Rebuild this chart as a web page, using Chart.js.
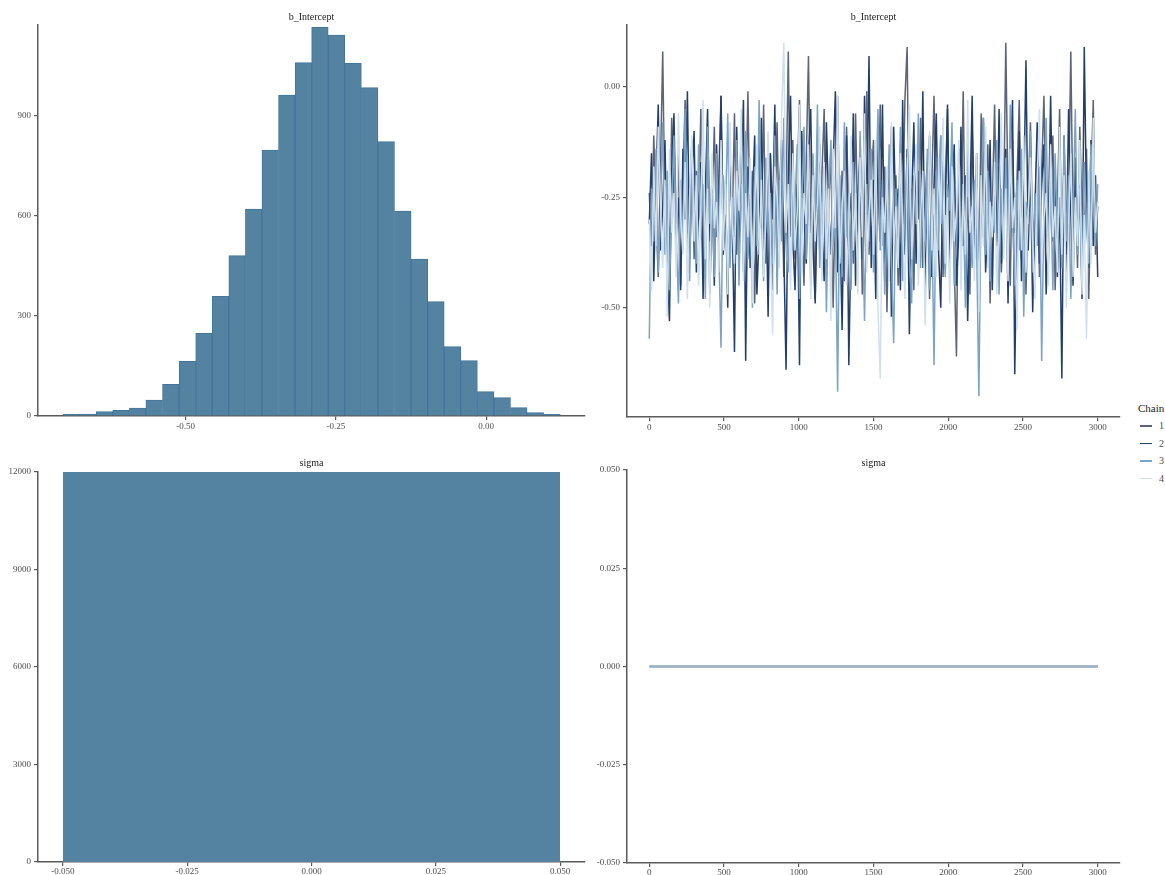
<!DOCTYPE html>
<html><head><meta charset="utf-8">
<script src="https://cdn.jsdelivr.net/npm/chart.js@4.4.1/dist/chart.umd.min.js"></script>
<style>
html,body{margin:0;padding:0;background:#fff;}
body{width:1165px;height:875px;position:relative;overflow:hidden;font-family:'Liberation Serif','DejaVu Serif',serif;}
canvas{position:absolute;}
#legend{position:absolute;left:1138px;top:400px;color:#1a1a1a;}
#legend .ttl{font-size:11px;height:17px;line-height:16px;}
#legend .row{height:17.5px;display:flex;align-items:center;font-size:10px;color:#4d4d4d;}
#legend .sw{display:inline-block;width:12px;height:1.5px;margin:0 7px 0 2px;}
</style></head><body>
<canvas id="histB" width="600" height="440" style="left:0;top:0"></canvas>
<canvas id="traceB" width="550" height="440" style="left:580px;top:0"></canvas>
<canvas id="histS" width="600" height="435" style="left:0;top:440px"></canvas>
<canvas id="traceS" width="550" height="435" style="left:580px;top:440px"></canvas>
<div id="legend"></div>
<script>
// ---------- data ----------
const histTitle = 'b_Intercept';
const sigmaTitle = 'sigma';
const histBinCenters = [-0.6902,-0.6626,-0.6351,-0.6075,-0.5799,-0.5524,-0.5248,-0.4972,-0.4696,-0.4421,
  -0.4145,-0.3869,-0.3594,-0.3318,-0.3042,-0.2767,-0.2491,-0.2215,-0.1939,-0.1664,
  -0.1388,-0.1112,-0.0837,-0.0561,-0.0285,-0.0010,0.0266,0.0542,0.0817,0.1093];
const histCounts = [5,6,13,17,24,48,95,164,248,359,481,621,798,963,1060,1166,1143,1058,985,823,
  615,471,343,208,166,73,55,25,10,5];
const histXTicks = [-0.50,-0.25,0.00];
const histYTicks = [0,300,600,900];

const chainLabels = ['1','2','3','4'];
const traceIterStep = 15; // one stored draw every 15 iterations, 0..3000
const traceChain1 = [
  -0.24,-0.36,-0.11,-0.29,-0.43,-0.18,0.08,-0.31,-0.22,-0.40,
  -0.07,-0.27,-0.35,-0.15,-0.45,-0.21,-0.03,-0.33,-0.26,-0.12,
  -0.39,-0.19,-0.30,-0.05,-0.41,-0.24,-0.14,-0.47,-0.28,-0.09,
  -0.34,-0.20,-0.02,-0.37,-0.25,-0.44,-0.16,-0.31,-0.06,-0.38,
  -0.23,-0.13,-0.42,-0.28,-0.01,-0.35,-0.19,-0.49,-0.27,-0.10,
  -0.32,-0.04,-0.40,-0.22,-0.15,-0.46,-0.29,-0.08,-0.36,-0.18,
  -0.43,-0.25,0.08,-0.34,-0.12,-0.39,-0.21,-0.03,-0.30,-0.45,
  -0.17,0.07,-0.33,-0.26,-0.48,-0.11,-0.37,-0.20,-0.05,-0.41,
  -0.28,-0.14,-0.50,-0.23,-0.02,-0.35,-0.19,-0.44,-0.09,-0.31,
  -0.24,-0.40,-0.06,-0.33,-0.16,-0.47,-0.27,-0.01,-0.38,-0.21,
  -0.12,-0.42,-0.29,-0.04,-0.36,-0.18,-0.51,-0.25,-0.09,-0.34,
  -0.20,-0.45,-0.13,-0.31,-0.03,0.09,-0.39,-0.23,-0.46,-0.15,
  -0.30,-0.07,-0.41,-0.26,-0.17,-0.48,-0.22,-0.02,-0.37,-0.28,
  -0.11,-0.43,-0.24,-0.05,-0.35,-0.19,-0.40,-0.61,-0.14,-0.32,
  -0.01,-0.38,-0.25,-0.47,-0.10,-0.29,-0.20,-0.44,-0.06,-0.34,
  -0.23,-0.13,-0.49,-0.27,-0.04,-0.36,-0.18,-0.42,-0.30,0.10,
  -0.26,-0.45,-0.12,-0.33,-0.21,-0.03,-0.39,-0.16,-0.47,-0.24,
  -0.08,-0.35,-0.28,-0.14,-0.43,-0.19,-0.02,-0.31,-0.40,-0.22,
  -0.11,-0.46,-0.27,-0.05,-0.37,-0.17,-0.44,-0.25,0.08,-0.32,
  -0.20,-0.41,-0.09,-0.29,-0.36,-0.14,-0.48,-0.23,-0.03,-0.38,
  -0.27];
const traceChain2 = [
  -0.31,-0.15,-0.44,-0.22,-0.04,-0.37,-0.27,-0.12,-0.40,-0.53,
  -0.19,-0.06,-0.34,-0.25,-0.46,-0.14,-0.30,-0.01,-0.39,-0.21,
  -0.10,-0.42,-0.28,-0.17,-0.48,-0.24,-0.05,-0.35,-0.20,-0.45,
  -0.13,-0.32,-0.02,-0.38,-0.26,-0.50,-0.16,-0.29,-0.60,-0.09,
  -0.36,-0.23,-0.03,-0.62,-0.18,-0.41,-0.27,-0.11,-0.47,-0.33,
  -0.07,-0.39,-0.21,-0.52,-0.15,-0.30,-0.04,-0.43,-0.25,-0.12,
  -0.37,-0.64,-0.19,-0.02,-0.34,-0.46,-0.22,-0.63,-0.10,-0.28,
  -0.40,-0.16,-0.05,-0.36,-0.49,-0.24,-0.13,-0.31,-0.44,-0.08,
  -0.27,-0.38,-0.18,-0.01,-0.42,-0.30,-0.55,-0.20,-0.11,-0.63,
  -0.33,-0.06,-0.45,-0.25,-0.15,-0.39,-0.02,-0.29,0.07,-0.41,
  -0.21,-0.48,-0.12,-0.35,-0.04,-0.44,-0.27,-0.17,-0.52,-0.09,
  -0.31,-0.23,-0.46,-0.03,-0.38,-0.14,-0.56,-0.26,-0.08,-0.40,
  -0.19,-0.34,-0.01,-0.47,-0.28,-0.11,-0.43,-0.22,-0.06,-0.37,
  -0.50,-0.16,-0.29,-0.04,-0.41,-0.24,-0.13,-0.45,-0.33,-0.09,
  -0.36,-0.20,-0.53,-0.27,-0.02,-0.39,-0.15,-0.48,-0.23,-0.07,
  -0.42,-0.30,-0.12,-0.46,-0.18,-0.35,-0.05,-0.40,-0.26,-0.14,
  -0.49,-0.21,-0.03,-0.65,-0.32,-0.10,-0.44,-0.25,0.06,-0.37,
  -0.17,-0.51,-0.28,-0.08,-0.40,-0.22,-0.13,-0.47,-0.31,-0.02,
  -0.35,-0.19,-0.43,-0.26,-0.66,-0.11,-0.38,-0.05,-0.29,-0.45,
  -0.16,-0.34,-0.22,-0.48,0.09,-0.27,-0.41,-0.12,-0.36,-0.20,
  -0.43];
const traceChain3 = [
  -0.57,-0.23,-0.35,-0.14,-0.42,-0.28,-0.08,-0.38,-0.19,-0.46,
  -0.26,-0.11,-0.33,-0.49,-0.21,-0.37,-0.05,-0.30,-0.44,-0.17,
  -0.27,-0.40,-0.13,-0.34,-0.22,-0.48,-0.09,-0.31,-0.24,-0.43,
  -0.15,-0.36,-0.59,-0.20,-0.29,-0.06,-0.41,-0.25,-0.34,-0.12,
  -0.45,-0.22,-0.32,-0.10,-0.39,-0.27,-0.50,-0.18,-0.36,-0.03,
  -0.29,-0.44,-0.16,-0.33,-0.24,-0.40,-0.11,-0.47,-0.21,-0.35,
  -0.07,-0.30,-0.42,-0.19,-0.37,-0.26,-0.13,-0.48,-0.28,-0.09,
  -0.39,-0.23,-0.45,-0.15,-0.32,-0.04,-0.41,-0.27,-0.18,-0.51,
  -0.25,-0.12,-0.36,-0.30,-0.69,-0.20,-0.43,-0.08,-0.34,-0.24,
  -0.46,-0.17,-0.31,-0.39,-0.10,-0.28,-0.53,-0.22,-0.35,-0.14,
  -0.42,-0.26,-0.05,-0.37,-0.21,-0.47,-0.30,-0.13,-0.40,-0.58,
  -0.23,-0.33,-0.09,-0.44,-0.27,-0.16,-0.38,-0.49,-0.20,-0.31,
  -0.06,-0.41,-0.25,-0.35,-0.14,-0.46,-0.29,-0.63,-0.19,-0.37,
  -0.11,-0.32,-0.43,-0.22,-0.28,-0.08,-0.45,-0.34,-0.17,-0.39,
  -0.26,-0.50,-0.13,-0.30,-0.41,-0.21,-0.36,-0.70,-0.24,-0.07,
  -0.38,-0.19,-0.44,-0.27,-0.33,-0.12,-0.47,-0.23,-0.35,-0.16,
  -0.40,-0.04,-0.29,-0.45,-0.21,-0.37,-0.14,-0.52,-0.26,-0.31,
  -0.10,-0.42,-0.24,-0.36,-0.18,-0.62,-0.28,-0.07,-0.39,-0.22,
  -0.46,-0.15,-0.33,-0.25,-0.41,-0.11,-0.35,-0.20,-0.48,-0.29,
  -0.05,-0.38,-0.23,-0.44,-0.17,-0.31,-0.40,-0.13,-0.27,-0.36,
  -0.22];
const traceChain4 = [
  -0.30,-0.46,-0.18,-0.36,-0.09,-0.27,-0.41,-0.21,-0.52,-0.14,
  -0.33,-0.24,-0.43,-0.06,-0.29,-0.38,-0.17,-0.48,-0.25,-0.11,
  -0.35,-0.20,-0.45,-0.28,-0.03,-0.39,-0.23,-0.50,-0.15,-0.32,
  -0.26,-0.42,-0.12,-0.37,-0.22,-0.47,-0.08,-0.31,-0.40,-0.19,
  -0.28,-0.05,-0.44,-0.24,-0.34,-0.16,-0.49,-0.27,-0.13,-0.38,
  -0.21,-0.43,-0.30,-0.10,-0.36,-0.56,-0.18,-0.25,-0.41,-0.07,
  0.10,-0.33,-0.22,-0.46,-0.15,-0.37,-0.28,-0.04,-0.42,-0.24,
  -0.31,-0.13,-0.48,-0.20,-0.35,-0.26,-0.09,-0.44,-0.17,-0.39,
  -0.23,-0.53,-0.14,-0.32,-0.02,-0.40,-0.27,-0.19,-0.45,-0.30,
  -0.11,-0.37,-0.24,-0.47,-0.16,-0.34,-0.06,-0.42,-0.29,-0.21,
  -0.38,-0.12,-0.50,-0.66,-0.25,-0.33,-0.18,-0.44,-0.08,-0.36,
  -0.27,-0.41,-0.15,-0.31,-0.48,-0.22,-0.04,-0.39,-0.26,-0.13,
  -0.45,-0.29,-0.19,-0.54,-0.34,-0.10,-0.37,-0.23,-0.43,-0.16,
  -0.31,-0.07,-0.40,-0.25,-0.49,-0.18,-0.35,-0.28,-0.12,-0.46,
  -0.22,-0.38,-0.03,-0.33,-0.27,-0.44,-0.15,-0.51,-0.20,-0.36,
  -0.09,-0.41,-0.26,-0.34,-0.17,-0.47,-0.30,-0.06,-0.39,-0.23,
  -0.44,-0.14,-0.32,-0.25,-0.55,-0.19,-0.37,-0.11,-0.42,-0.28,
  -0.16,-0.35,-0.48,-0.21,-0.05,-0.40,-0.30,-0.24,-0.45,-0.13,
  -0.34,-0.27,-0.42,-0.09,-0.38,-0.20,-0.50,-0.31,-0.15,-0.43,
  -0.25,-0.36,-0.12,-0.47,-0.29,-0.57,-0.19,-0.40,-0.07,-0.33,
  -0.26];
const traceXTicks = [0,500,1000,1500,2000,2500,3000];
const traceYTicks = [-0.50,-0.25,0.00];

const sigmaBinEdges = [-0.05,0.05];
const sigmaCounts = [12000];
const sigmaXTicks = [-0.050,-0.025,0.000,0.025,0.050];
const sigmaYTicks = [0,3000,6000,9000,12000];
const sigmaIters = [1,3000];
const sigmaChain1 = [0,0];
const sigmaChain2 = [0,0];
const sigmaChain3 = [0,0];
const sigmaChain4 = [0,0];
const sigmaTraceYTicks = [-0.050,-0.025,0.000,0.025,0.050];

// ---------- styles ----------
const FONT = "'Liberation Serif', 'DejaVu Serif', serif";
const AX = '#5a5a5a';
const TICK_TXT = '#4d4d4d';
const HIST_FILL = '#5483a2';
const HIST_LINE = '#44759a';
const chainColors = ['#5d6477','#223f6b','#7ba3c4','#cfe0ec'];
const sigmaChainColors = ['rgba(93,100,119,0.35)','rgba(34,63,107,0.35)','rgba(123,163,196,0.35)','rgba(207,224,236,0.35)'];

function axis(min, max, ticks, digits, size, pos, tickPad) {
  return {
    type: 'linear', position: pos, min: min, max: max, offset: false,
    grid: {display: true, drawOnChartArea: false, drawTicks: true, tickLength: 4, color: AX, lineWidth: 1.2, offset: false},
    border: {display: true, color: AX, width: 1.5},
    ticks: {font: {family: FONT, size: 9}, color: TICK_TXT, padding: tickPad, autoSkip: false, maxRotation: 0, minRotation: 0, includeBounds: false,
      callback: (v) => Number(v).toFixed(digits)},
    afterBuildTicks: (s) => { s.ticks = ticks.map(v => ({value: v})); },
    afterFit: (s) => { if (pos === 'left') s.width = size; else s.height = size; }
  };
}
function titleOpt(text, top, bottom) {
  return {display: true, text: text, fullSize: false, color: '#1a1a1a',
    font: {family: FONT, size: 10, weight: 'normal'}, padding: {top: top, bottom: bottom}};
}
const basePlugins = (t) => ({legend: {display: false}, tooltip: {enabled: false}, title: t});

// ---------- top-left histogram ----------
new Chart(document.getElementById('histB'), {
  type: 'bar',
  data: {datasets: [{
    data: histCounts.map((c, i) => ({x: histBinCenters[i], y: c})),
    backgroundColor: HIST_FILL, borderColor: HIST_LINE, borderWidth: 1,
    barPercentage: 1, categoryPercentage: 1
  }]},
  options: {
    responsive: false, animation: false, devicePixelRatio: 1,
    layout: {padding: {left: 0, right: 15, top: 0, bottom: 0}},
    plugins: basePlugins(titleOpt(histTitle, 11, 2)),
    scales: {
      x: axis(-0.7457, 0.1643, histXTicks, 2, 24, 'bottom', 1),
      y: axis(0, 1173, histYTicks, 0, 38, 'left', 3)
    }
  }
});

// ---------- top-right trace ----------
const traceChains = [traceChain1, traceChain2, traceChain3, traceChain4];
new Chart(document.getElementById('traceB'), {
  type: 'line',
  data: {datasets: traceChains.map((ch, c) => ({
    label: chainLabels[c],
    data: ch.map((v, k) => ({x: k * traceIterStep, y: v})),
    borderColor: chainColors[c], borderWidth: 1.5, pointRadius: 0, tension: 0, fill: false,
    order: 4 - c
  }))},
  options: {
    responsive: false, animation: false, devicePixelRatio: 1,
    layout: {padding: {left: 0, right: 10, top: 0, bottom: 0}},
    plugins: basePlugins(titleOpt(histTitle, 11, 2)),
    scales: {
      x: axis(-149, 3149, traceXTicks, 0, 23, 'bottom', 1),
      y: axis(-0.747, 0.140, traceYTicks, 2, 47, 'left', 3)
    }
  }
});

// ---------- bottom-left sigma histogram ----------
new Chart(document.getElementById('histS'), {
  type: 'line',
  data: {datasets: [{
    data: sigmaBinEdges.map(e => ({x: e, y: sigmaCounts[0]})),
    borderColor: HIST_FILL, borderWidth: 0, backgroundColor: HIST_FILL,
    fill: 'origin', pointRadius: 0, tension: 0
  }]},
  options: {
    responsive: false, animation: false, devicePixelRatio: 1,
    layout: {padding: {left: 0, right: 15, top: 0, bottom: 0}},
    plugins: Object.assign(basePlugins(titleOpt(sigmaTitle, 17, 3)), {filler: {propagate: false}}),
    scales: {
      x: axis(-0.055, 0.055, sigmaXTicks, 3, 13, 'bottom', 0),
      y: axis(0, 12000, sigmaYTicks, 0, 38, 'left', 3)
    }
  }
});

// ---------- bottom-right sigma trace ----------
const sigmaChains = [sigmaChain1, sigmaChain2, sigmaChain3, sigmaChain4];
new Chart(document.getElementById('traceS'), {
  type: 'line',
  data: {datasets: sigmaChains.map((ch, c) => ({
    label: chainLabels[c],
    data: ch.map((v, k) => ({x: sigmaIters[k], y: v})),
    borderColor: sigmaChainColors[c], borderWidth: 2.5, pointRadius: 0, tension: 0, fill: false,
    order: 4 - c
  }))},
  options: {
    responsive: false, animation: false, devicePixelRatio: 1,
    layout: {padding: {left: 0, right: 10, top: 0, bottom: 0}},
    plugins: basePlugins(titleOpt(sigmaTitle, 17, 1)),
    scales: {
      x: axis(-149, 3149, traceXTicks, 0, 12, 'bottom', 0),
      y: axis(-0.05, 0.05, sigmaTraceYTicks, 3, 47, 'left', 3)
    }
  }
});

// ---------- legend ----------
const lg = document.getElementById('legend');
let html = '<div class="ttl">Chain</div>';
chainLabels.forEach((l, i) => {
  html += '<div class="row"><span class="sw" style="background:' + chainColors[i] + '"></span>' + l + '</div>';
});
lg.innerHTML = html;
</script>
</body></html>
